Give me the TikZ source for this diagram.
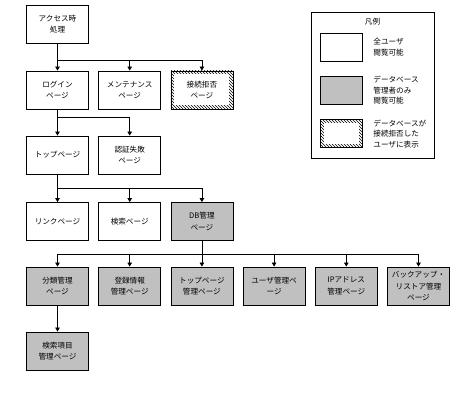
\documentclass[tikz,border=0pt]{standalone}
\usepackage{fontspec}
\setmainfont{Noto Sans CJK JP}
\usetikzlibrary{arrows.meta, patterns}
\definecolor{admingray}{RGB}{192, 192, 192}

\begin{document}
\begin{tikzpicture}[x=1pt, y=-1pt, line width=0.8pt,
  font=\fontsize{7.6}{11.5}\selectfont,
  page/.style={draw, minimum width=62pt, minimum height=38pt, inner sep=1pt, align=center},
  adminpage/.style={page, fill=admingray},
  refused/.style={page, pattern=north west lines,
    path picture={\fill[white] ([xshift=3.5pt, yshift=-3.5pt]path picture bounding box.north west)
      rectangle ([xshift=-3.5pt, yshift=3.5pt]path picture bounding box.south east);}},
  keybox/.style={minimum width=42pt, minimum height=28pt, inner sep=0pt},
  keytext/.style={anchor=west, align=left, inner sep=1pt, font=\fontsize{7.6}{10.5}\selectfont},
  conn/.style={-{Triangle[width=4.5pt, length=4pt]}}]
  \path[use as bounding box, fill=white] (0,0) rectangle (461,406);

  % bus lines
  \coordinate (bus1) at (0,60);
  \coordinate (bus2) at (0,117);
  \coordinate (bus3) at (0,188);
  \coordinate (bus4) at (0,254);

  \node[page] (access) at (57.5,24) {アクセス時\\処理};

  \node[page] (login) at (57.5,90) {ログイン\\ページ};
  \node[page] (maint) at (129.7,90) {メンテナンス\\ページ};
  \node[refused] (refuse) at (201.9,90) {接続拒否\\ページ};

  \node[page] (top) at (57.5,155) {トップページ};
  \node[page] (authfail) at (129.7,155) {認証失敗\\ページ};

  \node[page] (linkpg) at (57.5,221.5) {リンクページ};
  \node[page] (searchpg) at (129.7,221.5) {検索ページ};
  \node[adminpage] (dbadmin) at (201.9,221.5) {DB管理\\ページ};

  \node[adminpage] (cat) at (57.5,286) {分類管理\\ページ};
  \node[adminpage] (reginfo) at (129.7,286) {登録情報\\管理ページ};
  \node[adminpage] (topadmin) at (201.9,286) {トップページ\\管理ページ};
  \node[adminpage] (useradmin) at (274.1,286) {ユーザ管理ペ\\ージ};
  \node[adminpage] (ipadmin) at (346.3,286) {IPアドレス\\管理ページ};
  \node[adminpage] (backup) at (418.5,286) {バックアップ・\\リストア管理\\ページ};

  \node[adminpage] (searchitem) at (57.5,351) {検索項目\\管理ページ};

  \foreach \pg in {login, maint, refuse}
    \draw[conn] (access.south) -- (access.south |- bus1) -| (\pg.north);
  \foreach \pg in {top, authfail}
    \draw[conn] (login.south) -- (login.south |- bus2) -| (\pg.north);
  \foreach \pg in {linkpg, searchpg, dbadmin}
    \draw[conn] (top.south) -- (top.south |- bus3) -| (\pg.north);
  \foreach \pg in {cat, reginfo, topadmin, useradmin, ipadmin, backup}
    \draw[conn] (dbadmin.south) -- (dbadmin.south |- bus4) -| (\pg.north);
  \draw[conn] (cat.south) -- (searchitem.north);

  % legend
  \node[draw, minimum width=123pt, minimum height=146pt, inner sep=0pt] (legend) at (372.5,85) {};
  \node (legendtitle) at (372.5,22) {凡例};
  \node[draw, keybox] (keyall) at (341,47) {};
  \node[adminpage, keybox] (keyadmin) at (341,90.5) {};
  \node[refused, keybox] (keyrefused) at (341,133.5) {};
  \node[keytext] (keyalltext) at (372,47) {全ユーザ\\閲覧可能};
  \node[keytext] (keyadmintext) at (372,90.5) {データベース\\管理者のみ\\閲覧可能};
  \node[keytext] (keyrefusedtext) at (372,134) {データベースが\\接続拒否した\\ユーザに表示};
\end{tikzpicture}
\end{document}
